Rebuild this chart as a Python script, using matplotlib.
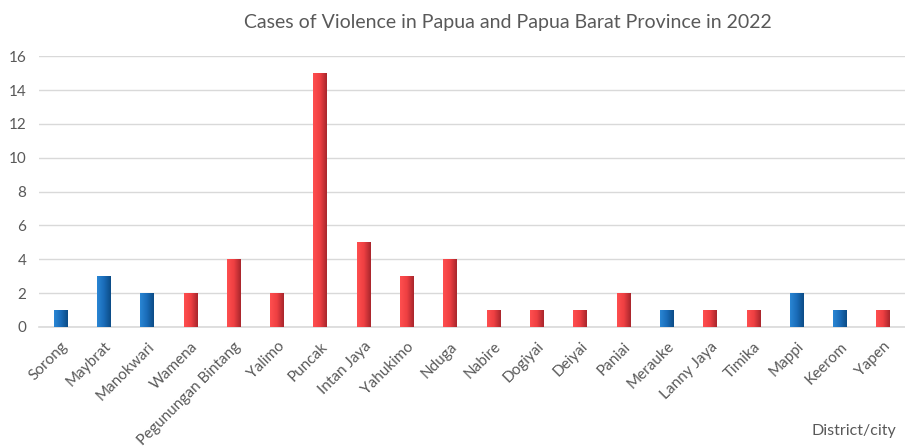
import numpy as np
import matplotlib
matplotlib.use("Agg")
import matplotlib.pyplot as plt
from matplotlib.colors import LinearSegmentedColormap

districts = ["Sorong", "Maybrat", "Manokwari", "Wamena", "Pegunungan Bintang",
             "Yalimo", "Puncak", "Intan Jaya", "Yahukimo", "Nduga", "Nabire",
             "Dogiyai", "Deiyai", "Paniai", "Merauke", "Lanny Jaya", "Timika",
             "Mappi", "Keerom", "Yapen"]
cases = [1, 3, 2, 2, 4, 2, 15, 5, 3, 4, 1, 1, 1, 2, 1, 1, 1, 2, 1, 1]
group = ["b", "b", "b", "r", "r", "r", "r", "r", "r", "r", "r",
         "r", "r", "r", "b", "r", "r", "b", "b", "r"]

cmaps = {
    "b": LinearSegmentedColormap.from_list("blu", ["#2a86d4", "#1a6cb8", "#0c4c86"]),
    "r": LinearSegmentedColormap.from_list("red", ["#ff4f4f", "#ee3f42", "#a8262c"]),
}

plt.rcParams['font.family'] = ['Lato', 'DejaVu Sans']
fig = plt.figure(figsize=(9.05, 4.46), dpi=100)
ax = fig.add_axes([0.043, 0.267, 0.957, 0.607])

x = np.arange(len(districts))
bars = ax.bar(x, cases, width=0.32, color="none", zorder=3)
grad = np.linspace(0, 1, 64).reshape(1, -1)
for b, g in zip(bars, group):
    x0, w, h = b.get_x(), b.get_width(), b.get_height()
    im = ax.imshow(grad, cmap=cmaps[g], extent=[x0, x0 + w, 0, h],
                   aspect="auto", zorder=3, interpolation="bilinear")
    im.set_clip_path(b)

ax.set_xlim(-0.5, len(districts) - 0.5)
ax.set_ylim(0, 16)
ax.set_yticks(range(0, 17, 2))
ax.yaxis.grid(True, color="#d9d9d9", linewidth=1)
ax.set_axisbelow(True)
for s in ["top", "right", "left"]:
    ax.spines[s].set_visible(False)
ax.spines["bottom"].set_color("#d9d9d9")
ax.spines["bottom"].set_linewidth(1.2)
ax.tick_params(axis="both", length=0, colors="#595959", labelsize=11)
ax.tick_params(axis="y", pad=9)
ax.tick_params(axis="x", pad=9)
ax.set_xticks(x)
ax.set_xticklabels(districts, rotation=45, ha="right", rotation_mode="anchor")

fig.text(0.561, 0.95, "Cases of Violence in Papua and Papua Barat Province in 2022",
         ha="center", va="center", fontsize=14, color="#595959")
fig.text(0.99, 0.018, "District/city", ha="right", va="bottom",
         fontsize=11.5, color="#595959")

fig.savefig("out.png", dpi=100)
